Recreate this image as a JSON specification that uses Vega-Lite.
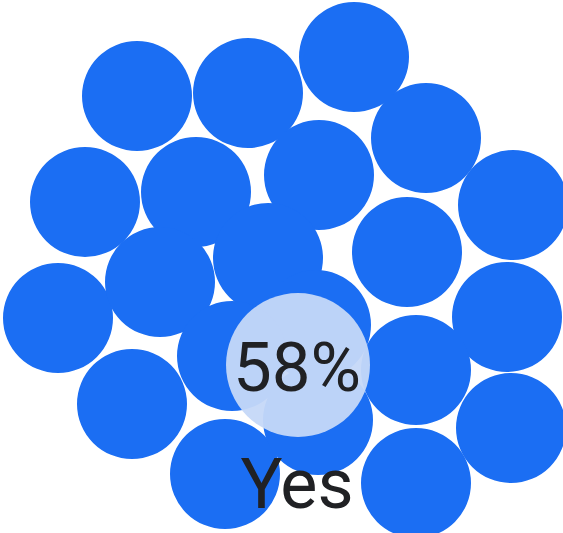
{
  "$schema": "https://vega.github.io/schema/vega-lite/v6.json",
  "width": 563,
  "height": 533,
  "padding": 0,
  "autosize": {"type": "none"},
  "background": "white",
  "config": {"view": {"stroke": null}},
  "datasets": {
    "circles": [
      {"x": 137, "y": 96}, {"x": 248, "y": 93}, {"x": 354, "y": 57}, {"x": 426, "y": 138},
      {"x": 513, "y": 205}, {"x": 85, "y": 202}, {"x": 196, "y": 192}, {"x": 319, "y": 175},
      {"x": 407, "y": 252}, {"x": 58, "y": 318}, {"x": 160, "y": 282}, {"x": 268, "y": 258},
      {"x": 316, "y": 325}, {"x": 232, "y": 356}, {"x": 507, "y": 317}, {"x": 132, "y": 404},
      {"x": 416, "y": 370}, {"x": 511, "y": 428}, {"x": 225, "y": 474}, {"x": 416, "y": 483},
      {"x": 318, "y": 420}
    ],
    "highlight": [{"x": 298, "y": 365}],
    "labels": [
      {"x": 297, "y": 370, "text": "58%", "kind": "value"},
      {"x": 297, "y": 508, "text": "Yes", "kind": "name"}
    ]
  },
  "layer": [
    {
      "data": {"name": "circles"},
      "mark": {"type": "point", "shape": "circle", "filled": true, "size": 12100, "color": "#1b6ef3", "opacity": 1, "strokeWidth": 0},
      "encoding": {
        "x": {"field": "x", "type": "quantitative", "scale": {"domain": [0, 563]}, "axis": null},
        "y": {"field": "y", "type": "quantitative", "scale": {"domain": [0, 533], "reverse": true}, "axis": null}
      }
    },
    {
      "data": {"name": "highlight"},
      "mark": {"type": "point", "shape": "circle", "filled": true, "size": 20736, "color": "#c5d8f8", "opacity": 0.95, "strokeWidth": 0},
      "encoding": {
        "x": {"field": "x", "type": "quantitative", "scale": {"domain": [0, 563]}, "axis": null},
        "y": {"field": "y", "type": "quantitative", "scale": {"domain": [0, 533], "reverse": true}, "axis": null}
      }
    },
    {
      "data": {"name": "labels"},
      "transform": [{"filter": "datum.kind === 'value'"}],
      "mark": {"type": "text", "font": "Roboto", "fontSize": 69, "color": "#202124", "align": "center", "baseline": "middle"},
      "encoding": {
        "x": {"field": "x", "type": "quantitative", "scale": {"domain": [0, 563]}, "axis": null},
        "y": {"field": "y", "type": "quantitative", "scale": {"domain": [0, 533], "reverse": true}, "axis": null},
        "text": {"field": "text"}
      }
    },
    {
      "data": {"name": "labels"},
      "transform": [{"filter": "datum.kind === 'name'"}],
      "mark": {"type": "text", "font": "Roboto", "fontSize": 70, "color": "#202124", "align": "center", "baseline": "alphabetic"},
      "encoding": {
        "x": {"field": "x", "type": "quantitative", "scale": {"domain": [0, 563]}, "axis": null},
        "y": {"field": "y", "type": "quantitative", "scale": {"domain": [0, 533], "reverse": true}, "axis": null},
        "text": {"field": "text"}
      }
    }
  ]
}
